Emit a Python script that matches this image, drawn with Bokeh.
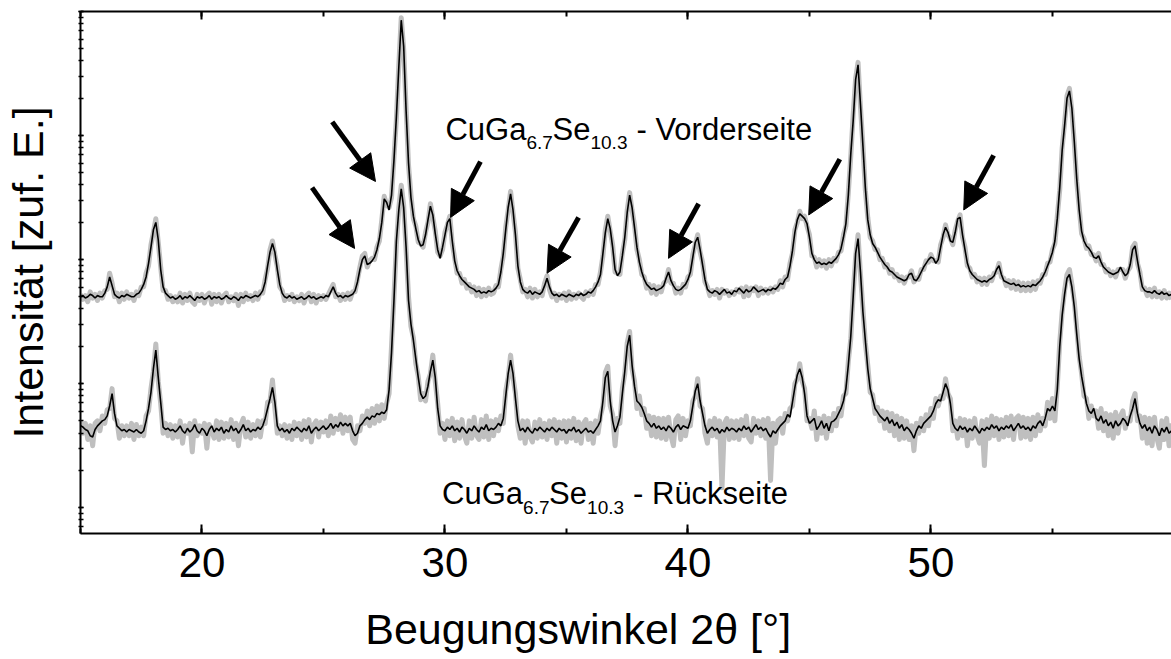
import numpy as np
from bokeh.plotting import figure
from bokeh.models import (Range1d, LinearAxis, SingleIntervalTicker, LogTicker,
                          Label, Arrow, NormalHead, CustomLabelingPolicy)
from bokeh.embed import file_html
from bokeh.resources import INLINE

# ---------------- data (2theta grid 15.0 .. 59.9 deg, step 0.1) ----------------
two_theta = np.arange(150, 600) / 10.0

# log10 intensity, front side (Vorderseite): smoothed curve (black)
front_smooth_lg = [
    1.70,1.71,1.69,1.70,1.72,1.71,1.69,1.71,1.70,1.70,
    1.73,1.78,1.86,1.79,1.72,1.70,1.69,1.71,1.70,1.72,
    1.71,1.70,1.70,1.72,1.73,1.76,1.80,1.86,1.97,2.10,
    2.24,2.30,2.16,1.92,1.78,1.73,1.71,1.69,1.70,1.68,
    1.69,1.71,1.68,1.70,1.69,1.71,1.69,1.67,1.70,1.69,
    1.70,1.68,1.69,1.71,1.68,1.70,1.69,1.70,1.68,1.69,
    1.71,1.69,1.68,1.70,1.69,1.67,1.70,1.69,1.71,1.70,
    1.69,1.70,1.71,1.70,1.72,1.75,1.82,1.95,2.06,2.13,
    2.06,1.92,1.80,1.73,1.70,1.69,1.71,1.69,1.70,1.68,
    1.69,1.70,1.68,1.69,1.71,1.69,1.70,1.68,1.69,1.70,
    1.69,1.71,1.70,1.74,1.78,1.73,1.70,1.71,1.69,1.71,
    1.70,1.71,1.72,1.75,1.82,1.92,2.00,2.03,1.96,1.97,
    1.99,2.02,2.08,2.17,2.30,2.49,2.46,2.40,2.52,2.80,
    3.15,3.55,3.93,3.72,3.20,2.78,2.50,2.35,2.25,2.16,
    2.11,2.12,2.20,2.32,2.43,2.36,2.21,2.08,2.01,2.10,
    2.20,2.30,2.33,2.15,1.99,1.91,1.87,1.84,1.82,1.80,
    1.78,1.77,1.76,1.74,1.75,1.73,1.74,1.73,1.75,1.74,
    1.75,1.77,1.80,1.90,2.05,2.24,2.42,2.53,2.40,2.20,
    1.95,1.82,1.76,1.74,1.73,1.75,1.72,1.74,1.73,1.72,
    1.74,1.79,1.85,1.78,1.73,1.71,1.72,1.70,1.72,1.71,
    1.70,1.72,1.71,1.70,1.72,1.71,1.73,1.71,1.72,1.74,
    1.73,1.75,1.78,1.82,1.88,2.05,2.22,2.33,2.25,2.10,
    1.92,1.87,1.90,2.03,2.18,2.38,2.52,2.42,2.26,2.10,
    1.98,1.90,1.84,1.80,1.78,1.76,1.77,1.75,1.76,1.77,
    1.79,1.85,1.90,1.83,1.79,1.76,1.75,1.76,1.78,1.80,
    1.84,1.90,2.02,2.14,2.18,2.08,1.96,1.84,1.76,1.74,
    1.73,1.75,1.74,1.72,1.74,1.76,1.73,1.74,1.72,1.75,
    1.74,1.77,1.75,1.73,1.76,1.74,1.75,1.78,1.76,1.74,
    1.75,1.76,1.74,1.76,1.75,1.77,1.76,1.78,1.81,1.80,
    1.84,1.86,1.95,2.07,2.22,2.32,2.37,2.35,2.33,2.29,
    2.18,2.05,2.00,1.97,1.98,1.96,1.97,1.96,1.98,1.97,
    1.99,2.01,2.04,2.09,2.18,2.29,2.52,2.85,3.12,3.45,
    3.57,3.25,2.92,2.58,2.32,2.20,2.13,2.10,2.06,2.02,
    1.99,1.96,1.94,1.91,1.90,1.88,1.86,1.85,1.84,1.83,
    1.84,1.88,1.89,1.84,1.83,1.86,1.90,1.94,1.97,2.00,
    2.02,2.01,1.97,2.00,2.10,2.20,2.26,2.22,2.15,2.14,
    2.22,2.33,2.34,2.20,2.08,1.97,1.91,1.88,1.86,1.84,
    1.83,1.82,1.83,1.82,1.84,1.85,1.87,1.92,1.95,1.88,
    1.83,1.82,1.81,1.80,1.81,1.79,1.80,1.78,1.79,1.78,
    1.79,1.78,1.80,1.79,1.81,1.83,1.86,1.90,1.95,2.00,
    2.06,2.15,2.33,2.58,2.88,3.08,3.30,3.36,3.22,2.95,
    2.65,2.40,2.23,2.15,2.11,2.09,2.06,2.02,2.01,2.03,
    1.98,1.94,1.92,1.90,1.89,1.88,1.89,1.90,1.94,1.90,
    1.87,1.89,1.96,2.08,2.11,1.99,1.88,1.78,1.75,1.74,
    1.74,1.73,1.75,1.73,1.72,1.74,1.72,1.73,1.71,1.72,
]

# front side: raw measurement (grey)
front_raw_lg = [
    1.72,1.68,1.71,1.66,1.74,1.69,1.72,1.67,1.73,1.69,
    1.75,1.76,1.89,1.81,1.70,1.73,1.66,1.73,1.68,1.74,
    1.69,1.72,1.67,1.74,1.71,1.78,1.78,1.89,1.95,2.12,
    2.22,2.33,2.14,1.94,1.75,1.75,1.68,1.71,1.66,1.70,
    1.66,1.73,1.65,1.72,1.67,1.73,1.66,1.64,1.72,1.67,
    1.72,1.65,1.71,1.73,1.64,1.72,1.66,1.72,1.65,1.71,
    1.73,1.66,1.70,1.67,1.72,1.63,1.72,1.66,1.73,1.68,
    1.71,1.67,1.73,1.68,1.74,1.73,1.84,1.93,2.08,2.15,
    2.04,1.94,1.78,1.75,1.67,1.71,1.68,1.72,1.66,1.70,
    1.67,1.72,1.65,1.71,1.73,1.66,1.72,1.65,1.71,1.68,
    1.71,1.68,1.72,1.76,1.80,1.70,1.72,1.67,1.72,1.68,
    1.73,1.68,1.74,1.74,1.84,1.94,2.03,2.05,1.94,1.99,
    2.01,2.00,2.10,2.15,2.32,2.51,2.44,2.42,2.50,2.82,
    3.13,3.57,3.95,3.70,3.22,2.76,2.52,2.33,2.27,2.14,
    2.13,2.10,2.22,2.30,2.45,2.34,2.23,2.06,2.03,2.08,
    2.22,2.28,2.35,2.13,2.01,1.89,1.89,1.81,1.84,1.77,
    1.80,1.74,1.78,1.71,1.77,1.70,1.76,1.71,1.77,1.72,
    1.73,1.79,1.78,1.92,2.03,2.26,2.40,2.55,2.38,2.22,
    1.93,1.84,1.74,1.76,1.70,1.77,1.69,1.76,1.70,1.74,
    1.71,1.81,1.87,1.76,1.70,1.73,1.67,1.72,1.69,1.73,
    1.67,1.74,1.68,1.72,1.69,1.73,1.70,1.68,1.74,1.71,
    1.75,1.72,1.80,1.80,1.90,2.03,2.24,2.35,2.23,2.12,
    1.90,1.89,1.88,2.05,2.16,2.40,2.54,2.40,2.28,2.08,
    2.00,1.88,1.86,1.77,1.80,1.73,1.79,1.72,1.78,1.74,
    1.81,1.83,1.92,1.81,1.81,1.73,1.77,1.73,1.80,1.78,
    1.86,1.88,2.04,2.12,2.20,2.06,1.98,1.82,1.78,1.71,
    1.75,1.72,1.76,1.69,1.76,1.73,1.75,1.71,1.74,1.72,
    1.76,1.74,1.77,1.70,1.78,1.71,1.77,1.75,1.78,1.71,
    1.77,1.73,1.76,1.73,1.77,1.74,1.78,1.76,1.83,1.78,
    1.86,1.84,1.97,2.05,2.24,2.30,2.39,2.33,2.35,2.27,
    2.20,2.03,2.02,1.94,2.00,1.95,1.99,1.93,2.00,1.95,
    2.01,1.99,2.06,2.07,2.20,2.27,2.54,2.83,3.17,3.46,
    3.59,3.23,2.92,2.56,2.34,2.18,2.15,2.08,2.08,2.00,
    2.01,1.94,1.96,1.89,1.92,1.86,1.88,1.83,1.86,1.81,
    1.86,1.86,1.91,1.82,1.85,1.84,1.92,1.92,1.99,1.98,
    2.04,1.99,1.99,1.98,2.12,2.18,2.28,2.20,2.17,2.12,
    2.24,2.31,2.36,2.18,2.10,1.95,1.93,1.86,1.88,1.82,
    1.85,1.80,1.85,1.80,1.86,1.83,1.89,1.90,1.97,1.86,
    1.85,1.79,1.83,1.77,1.83,1.76,1.82,1.75,1.81,1.75,
    1.81,1.75,1.82,1.76,1.83,1.81,1.88,1.88,1.97,1.98,
    2.08,2.13,2.35,2.56,2.90,3.10,3.32,3.38,3.20,2.94,
    2.63,2.42,2.21,2.17,2.09,2.11,2.04,2.04,1.99,2.05,
    1.96,1.96,1.90,1.92,1.87,1.90,1.86,1.92,1.92,1.92,
    1.85,1.91,1.94,2.10,2.13,1.97,1.90,1.76,1.77,1.71,
    1.76,1.70,1.77,1.70,1.74,1.69,1.75,1.69,1.73,1.68,
]

# back side (Rueckseite): smoothed curve (black)
back_smooth_lg = [
    0.66,0.65,0.63,0.62,0.58,0.57,0.63,0.66,0.68,0.70,
    0.71,0.74,0.82,0.92,0.76,0.66,0.64,0.62,0.63,0.61,
    0.63,0.62,0.61,0.63,0.61,0.60,0.62,0.70,0.80,0.93,
    1.12,1.27,1.05,0.85,0.65,0.63,0.64,0.62,0.63,0.61,
    0.63,0.66,0.62,0.60,0.64,0.61,0.63,0.67,0.62,0.60,
    0.64,0.62,0.58,0.63,0.66,0.61,0.64,0.62,0.65,0.60,
    0.63,0.61,0.66,0.62,0.64,0.60,0.63,0.67,0.62,0.64,
    0.61,0.63,0.62,0.65,0.63,0.66,0.72,0.80,0.88,0.97,
    0.85,0.66,0.62,0.64,0.61,0.63,0.60,0.64,0.62,0.65,
    0.63,0.61,0.64,0.62,0.66,0.60,0.63,0.65,0.62,0.64,
    0.66,0.63,0.65,0.68,0.64,0.67,0.65,0.69,0.66,0.68,
    0.66,0.68,0.62,0.58,0.60,0.66,0.68,0.71,0.73,0.71,
    0.74,0.73,0.76,0.75,0.77,0.76,0.79,0.95,1.25,1.67,
    2.15,2.40,2.57,2.42,2.10,1.67,1.48,1.35,1.20,1.05,
    0.92,0.88,0.90,0.98,1.10,1.19,1.05,0.80,0.66,0.63,
    0.62,0.65,0.63,0.66,0.62,0.64,0.61,0.65,0.63,0.60,
    0.64,0.62,0.66,0.63,0.61,0.65,0.63,0.67,0.62,0.64,
    0.63,0.65,0.68,0.66,0.72,0.90,1.08,1.19,1.08,0.88,
    0.70,0.62,0.64,0.61,0.65,0.62,0.60,0.64,0.62,0.65,
    0.63,0.61,0.64,0.62,0.65,0.63,0.61,0.64,0.62,0.63,
    0.60,0.63,0.62,0.65,0.61,0.63,0.60,0.62,0.64,0.61,
    0.62,0.60,0.63,0.66,0.70,0.86,1.05,1.10,0.86,0.70,
    0.61,0.66,0.73,0.92,1.10,1.30,1.39,1.15,0.98,0.86,
    0.84,0.81,0.76,0.70,0.68,0.65,0.68,0.64,0.66,0.63,
    0.65,0.62,0.66,0.64,0.61,0.65,0.67,0.63,0.66,0.65,
    0.64,0.70,0.82,0.94,1.00,0.86,0.76,0.66,0.60,0.63,
    0.65,0.62,0.64,0.60,0.63,0.61,0.65,0.62,0.64,0.63,
    0.61,0.64,0.62,0.66,0.63,0.65,0.61,0.64,0.67,0.63,
    0.65,0.62,0.64,0.60,0.57,0.62,0.60,0.63,0.66,0.68,
    0.70,0.75,0.73,0.85,0.97,1.07,1.12,1.05,0.92,0.74,
    0.68,0.70,0.72,0.63,0.66,0.70,0.64,0.68,0.62,0.69,
    0.70,0.72,0.76,0.80,0.86,0.96,1.15,1.38,1.70,2.05,
    2.17,1.90,1.58,1.35,1.12,0.96,0.88,0.80,0.77,0.74,
    0.72,0.70,0.73,0.68,0.71,0.66,0.69,0.64,0.67,0.62,
    0.65,0.63,0.60,0.56,0.62,0.66,0.64,0.68,0.70,0.72,
    0.74,0.78,0.84,0.87,0.86,0.93,1.00,0.95,0.84,0.68,
    0.64,0.62,0.66,0.63,0.65,0.61,0.64,0.62,0.66,0.63,
    0.60,0.64,0.62,0.65,0.63,0.67,0.64,0.66,0.62,0.65,
    0.63,0.66,0.64,0.67,0.62,0.65,0.68,0.64,0.66,0.63,
    0.65,0.62,0.66,0.64,0.68,0.70,0.66,0.72,0.80,0.78,
    0.82,0.78,0.95,1.30,1.55,1.72,1.85,1.88,1.78,1.62,
    1.40,1.20,1.06,0.95,0.84,0.78,0.76,0.80,0.72,0.70,
    0.74,0.68,0.71,0.66,0.69,0.64,0.70,0.66,0.68,0.72,
    0.70,0.66,0.74,0.80,0.88,0.76,0.68,0.64,0.67,0.62,
    0.65,0.60,0.66,0.63,0.58,0.64,0.61,0.65,0.60,0.62,
]

# back side: raw measurement (grey)
back_raw_lg = [
    0.70,0.60,0.68,0.55,0.66,0.50,0.68,0.70,0.62,0.74,
    0.68,0.79,0.80,0.96,0.72,0.70,0.56,0.66,0.58,0.66,
    0.58,0.68,0.55,0.67,0.58,0.65,0.58,0.74,0.78,0.96,
    1.10,1.32,1.02,0.84,0.60,0.68,0.58,0.67,0.56,0.66,
    0.57,0.70,0.52,0.66,0.60,0.68,0.45,0.70,0.58,0.66,
    0.60,0.68,0.48,0.67,0.62,0.56,0.70,0.55,0.69,0.56,
    0.68,0.57,0.71,0.55,0.68,0.50,0.67,0.72,0.57,0.69,
    0.56,0.67,0.58,0.70,0.57,0.70,0.68,0.85,0.86,1.03,
    0.80,0.60,0.66,0.58,0.67,0.56,0.66,0.55,0.69,0.58,
    0.68,0.55,0.70,0.57,0.71,0.53,0.67,0.70,0.57,0.69,
    0.61,0.70,0.58,0.74,0.60,0.72,0.63,0.75,0.60,0.73,
    0.62,0.73,0.55,0.52,0.66,0.62,0.74,0.68,0.78,0.66,
    0.80,0.68,0.82,0.70,0.83,0.72,0.84,0.92,1.30,1.70,
    2.12,2.42,2.60,2.44,2.08,1.70,1.46,1.37,1.16,1.06,
    0.87,0.92,0.86,1.02,1.08,1.23,1.02,0.84,0.60,0.68,
    0.55,0.70,0.58,0.72,0.54,0.69,0.56,0.71,0.58,0.52,
    0.70,0.56,0.73,0.58,0.55,0.71,0.57,0.74,0.55,0.70,
    0.58,0.71,0.62,0.74,0.68,0.94,1.05,1.23,1.05,0.92,
    0.66,0.56,0.70,0.52,0.70,0.57,0.53,0.69,0.56,0.71,
    0.57,0.68,0.55,0.70,0.58,0.71,0.52,0.69,0.56,0.70,
    0.53,0.70,0.56,0.72,0.54,0.69,0.52,0.68,0.71,0.55,
    0.68,0.52,0.70,0.60,0.74,0.82,1.09,1.14,0.82,0.75,
    0.50,0.72,0.68,0.96,1.08,1.33,1.42,1.12,1.02,0.80,
    0.90,0.75,0.80,0.64,0.74,0.58,0.73,0.57,0.72,0.56,
    0.72,0.55,0.73,0.58,0.50,0.71,0.74,0.55,0.72,0.58,
    0.70,0.66,0.86,0.90,1.04,0.82,0.80,0.60,0.52,0.70,
    0.58,0.72,0.57,0.70,0.16,0.68,0.72,0.55,0.70,0.56,
    0.70,0.55,0.71,0.58,0.74,0.56,0.53,0.72,0.60,0.70,
    0.58,0.71,0.56,0.72,0.22,0.68,0.52,0.70,0.72,0.60,
    0.76,0.70,0.80,0.82,1.00,1.04,1.16,1.02,0.96,0.70,
    0.72,0.64,0.78,0.55,0.72,0.60,0.74,0.56,0.72,0.62,
    0.76,0.66,0.80,0.74,0.90,0.92,1.18,1.36,1.73,2.02,
    2.20,1.88,1.60,1.33,1.15,0.93,0.91,0.76,0.81,0.70,
    0.78,0.64,0.77,0.62,0.76,0.58,0.74,0.55,0.72,0.56,
    0.70,0.55,0.66,0.46,0.68,0.60,0.72,0.62,0.75,0.66,
    0.80,0.72,0.88,0.82,0.90,0.88,1.04,0.92,0.88,0.62,
    0.70,0.56,0.72,0.58,0.71,0.50,0.70,0.56,0.72,0.58,
    0.52,0.70,0.34,0.71,0.56,0.74,0.58,0.72,0.55,0.71,
    0.57,0.73,0.58,0.74,0.55,0.72,0.74,0.56,0.73,0.57,
    0.72,0.55,0.73,0.58,0.75,0.62,0.72,0.66,0.85,0.72,
    0.88,0.70,0.98,1.33,1.58,1.75,1.88,1.92,1.80,1.66,
    1.44,1.22,1.08,0.90,0.88,0.72,0.82,0.74,0.78,0.64,
    0.80,0.62,0.76,0.58,0.75,0.56,0.77,0.60,0.74,0.78,
    0.64,0.72,0.70,0.86,0.92,0.70,0.74,0.56,0.73,0.52,
    0.72,0.50,0.73,0.56,0.48,0.70,0.55,0.72,0.50,0.68,
]

# arrows marking the additional reflections (2theta, log10 intensity)
arrow_tail_x = [25.36, 24.53, 31.46, 35.50, 40.44, 46.25, 52.58]
arrow_tail_lg = [3.11, 2.58, 2.79, 2.34, 2.45, 2.81, 2.84]
arrow_tip_x = [27.14, 26.28, 30.23, 34.20, 39.20, 44.97, 51.35]
arrow_tip_lg = [2.63, 2.09, 2.34, 1.89, 2.01, 2.36, 2.40]

# ---------------- figure ----------------
FONT = "'Liberation Sans', Arial, sans-serif"

p = figure(width=1171, height=659, output_backend="svg", toolbar_location=None,
           x_range=Range1d(15.0, 59.9), y_range=Range1d(10 ** -0.208, 10 ** 4.0),
           y_axis_type="log", min_border_left=80, min_border_right=0,
           min_border_top=11, min_border_bottom=126)
p.outline_line_color = None
p.xgrid.visible = False
p.ygrid.visible = False
p.background_fill_color = "white"

no_labels = CustomLabelingPolicy(code="")

xa = p.xaxis[0]
xa.ticker = SingleIntervalTicker(interval=10, num_minor_ticks=2)
xa.axis_line_width = 2
xa.major_tick_in = 9
xa.major_tick_out = 0
xa.minor_tick_in = 5
xa.minor_tick_out = 0
xa.major_tick_line_width = 2
xa.minor_tick_line_width = 2
xa.major_label_text_font = FONT
xa.major_label_text_font_size = "42px"
xa.major_label_text_color = "black"
xa.major_label_standoff = 14
# the title sits left of the frame centre in the original; trailing
# no-break spaces shift the visible text accordingly
xa.axis_label = "Beugungswinkel 2θ [°]" + "\u00a0" * 8
xa.axis_label_text_font = FONT
xa.axis_label_text_font_size = "43px"
xa.axis_label_text_font_style = "normal"
xa.axis_label_text_color = "black"
xa.axis_label_standoff = 25

top = LinearAxis(ticker=SingleIntervalTicker(interval=10, num_minor_ticks=2),
                 major_label_policy=no_labels)
top.axis_line_width = 2
top.major_tick_in = 8
top.major_tick_out = 0
top.minor_tick_in = 5
top.minor_tick_out = 0
top.major_tick_line_width = 2
top.minor_tick_line_width = 2
top.major_label_standoff = 0
p.add_layout(top, "above")

ya = p.yaxis[0]
ya.ticker = LogTicker(num_minor_ticks=10)
ya.major_label_policy = no_labels
ya.axis_line_width = 2
ya.major_tick_in = 3
ya.major_tick_out = 2
ya.minor_tick_in = 3
ya.minor_tick_out = 2
ya.major_tick_line_width = 1.5
ya.minor_tick_line_width = 1.5
ya.major_label_standoff = 0
ya.axis_label = "Intensität [zuf. E.]"
ya.axis_label_text_font = FONT
ya.axis_label_text_font_size = "43px"
ya.axis_label_text_font_style = "normal"
ya.axis_label_text_color = "black"
ya.axis_label_standoff = 7

front_raw = 10 ** np.array(front_raw_lg)
front_smooth = 10 ** np.array(front_smooth_lg)
back_raw = 10 ** np.array(back_raw_lg)
back_smooth = 10 ** np.array(back_smooth_lg)

GREY = "#bfbfbf"
p.line(two_theta, front_raw, line_color=GREY, line_width=5, line_join="round")
p.line(two_theta, back_raw, line_color=GREY, line_width=5, line_join="round")
p.line(two_theta, back_smooth, line_color="black", line_width=1.6)
p.line(two_theta, front_smooth, line_color="black", line_width=1.6)

for xs, ys, xe, ye in zip(arrow_tail_x, arrow_tail_lg, arrow_tip_x, arrow_tip_lg):
    p.add_layout(Arrow(x_start=xs, y_start=10 ** ys, x_end=xe, y_end=10 ** ye,
                       line_width=5, line_color="black",
                       end=NormalHead(size=26, fill_color="black", line_color="black",
                                      line_width=1)))

# sample labels with subscripts
def formula_label(x0, y_base, y_sub, suffix):
    pieces = [("CuGa", 0, y_base, "31px"), ("6.7", 81, y_sub, "19px"),
              ("Se", 107, y_base, "31px"), ("10.3", 145, y_sub, "19px"),
              (suffix, 191, y_base, "31px")]
    for txt, dx, yy, fs in pieces:
        p.add_layout(Label(x=x0, y=yy, x_offset=dx, text=txt, text_font=FONT,
                           text_font_size=fs, text_color="black",
                           text_align="left", text_baseline="alphabetic"))

formula_label(30.02, 10 ** 3.05, 10 ** 2.94, "- Vorderseite")
formula_label(29.88, 10 ** 0.114, 10 ** 0.0, "- Rückseite")

open("out.html", "w").write(file_html(p, INLINE))
